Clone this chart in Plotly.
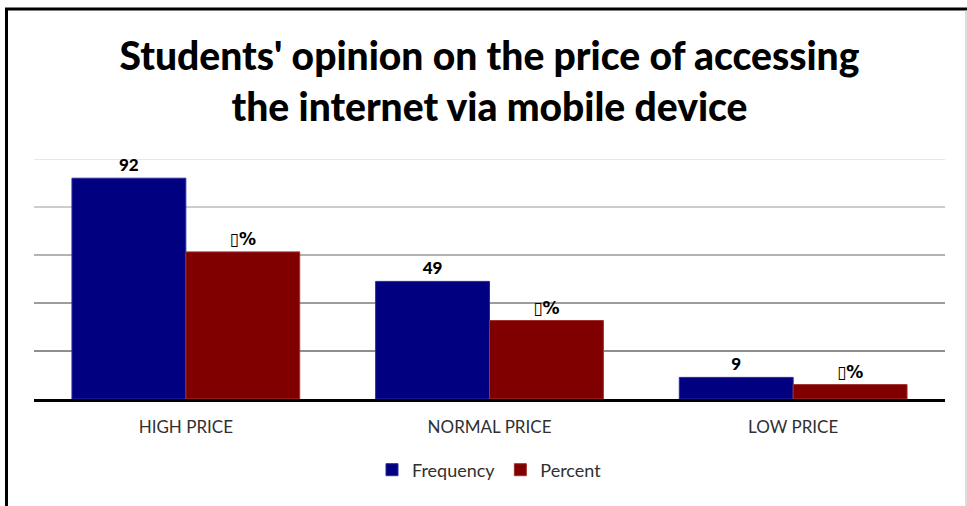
import plotly.graph_objects as go

# Survey responses: how students rate the cost of mobile internet access
categories = ["HIGH PRICE", "NORMAL PRICE", "LOW PRICE"]
frequency = [92, 49, 9]
percent = [61.3, 32.7, 6.0]
percent_labels = ["▯%", "▯%", "▯%"]

# Horizontal guide lines, shading from light at the top to dark near the base
grid_values = [20, 40, 60, 80, 100]
grid_colors = ["#1e1e1e", "#3a3a3a", "#666666", "#9a9a9a", "#cfcfcf"]

W, H = 967, 506
L, R, T, B = 34, 22, 159, 107
plot_w = W - L - R
plot_h = H - T - B


def px_x(p):
    return (p - L) / plot_w


def px_y(p):
    return (H - B - p) / plot_h


fig = go.Figure()
fig.add_trace(go.Bar(
    name="Frequency", x=categories, y=frequency,
    marker=dict(color="#000080", line=dict(color="#2a2aa0", width=1)),
    text=[str(v) for v in frequency], textposition="outside",
    textfont=dict(family="Lato", size=17, color="#000000", weight=900),
    cliponaxis=False,
))
fig.add_trace(go.Bar(
    name="Percent", x=categories, y=percent,
    marker=dict(color="#800000", line=dict(color="#a03030", width=1)),
    text=percent_labels, textposition="outside",
    textfont=dict(family="DejaVu Sans", size=17, color="#000000", weight="bold"),
    cliponaxis=False,
))

shapes = []
for v, c in zip(grid_values, grid_colors):
    shapes.append(dict(type="line", xref="paper", yref="y", x0=0, x1=1, y0=v, y1=v,
                       line=dict(color=c, width=1), layer="below"))

# Outer frame: heavy top and left rules, faint right edge
shapes.append(dict(type="line", xref="paper", yref="paper",
                   x0=px_x(5), x1=px_x(967), y0=px_y(9), y1=px_y(9),
                   line=dict(color="#000000", width=3)))
shapes.append(dict(type="line", xref="paper", yref="paper",
                   x0=px_x(6.5), x1=px_x(6.5), y0=px_y(8), y1=px_y(506),
                   line=dict(color="#000000", width=3)))
shapes.append(dict(type="line", xref="paper", yref="paper",
                   x0=px_x(966), x1=px_x(966), y0=px_y(10), y1=px_y(506),
                   line=dict(color="#bbbbbb", width=1)))

fig.update_layout(
    width=W, height=H,
    margin=dict(l=L, r=R, t=T, b=B),
    paper_bgcolor="white", plot_bgcolor="white",
    barmode="group", bargap=0.25, bargroupgap=0,
    title=dict(
        text="Students' opinion on the price of accessing<br>the internet via mobile device",
        x=0.5, xref="paper", xanchor="center",
        y=1 - 70 / H, yref="container", yanchor="middle",
        font=dict(family="Lato", size=39, color="#000000", weight=900),
    ),
    xaxis=dict(
        showline=True, linecolor="#000000", linewidth=2.5,
        ticks="outside", ticklen=11, tickcolor="rgba(0,0,0,0)",
        tickfont=dict(family="Lato", size=17, color="#303030"),
        showgrid=False,
    ),
    yaxis=dict(range=[0, 100], showgrid=False, showticklabels=False,
               zeroline=False, showline=False),
    legend=dict(
        orientation="h", x=0.5, xanchor="center",
        y=px_y(470), yanchor="middle",
        font=dict(family="Lato", size=18, color="#303030"),
        itemwidth=30, traceorder="normal",
    ),
    shapes=shapes,
    showlegend=True,
)

fig.write_html("out.html")
